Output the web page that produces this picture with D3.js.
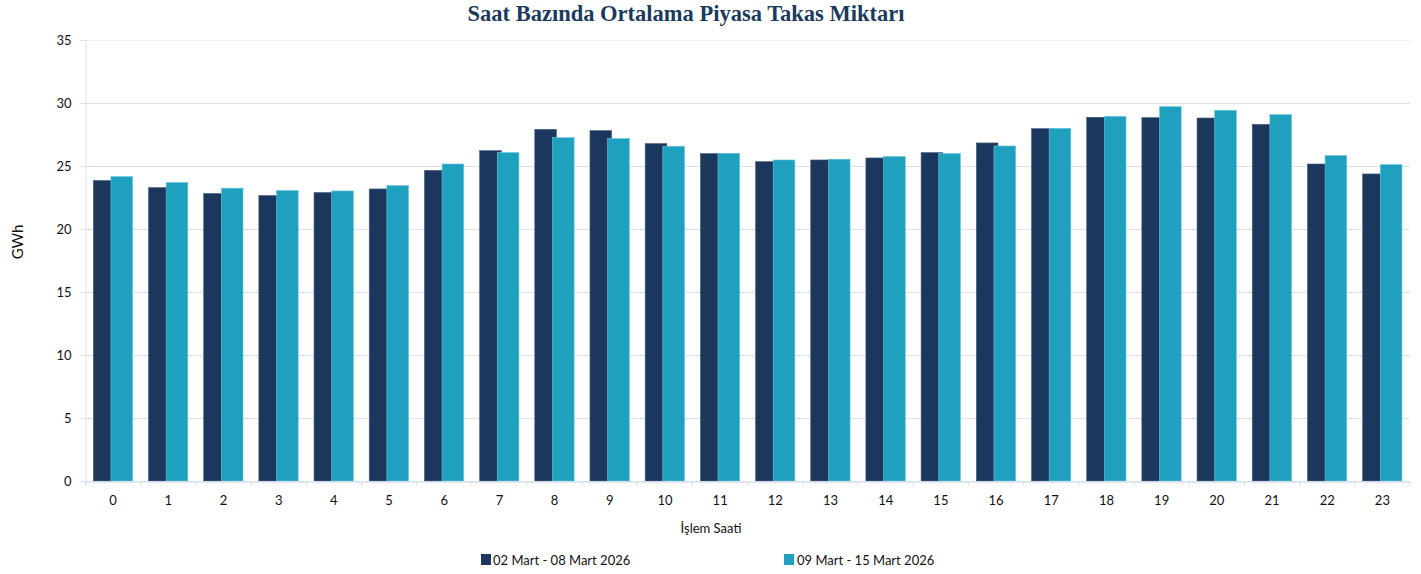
<!DOCTYPE html>
<html lang="tr">
<head>
<meta charset="UTF-8">
<title>Saat Bazında Ortalama Piyasa Takas Miktarı</title>
<style>
  body { margin: 0; background: #fff; }
  svg { display: block; font-family: Lato, "Noto Sans", sans-serif; }
</style>
</head>
<body>
<div id="chart"></div>
<script src="https://cdn.jsdelivr.net/npm/d3@7"></script>
<script>
var hours = ["0","1","2","3","4","5","6","7","8","9","10","11","12","13","14","15","16","17","18","19","20","21","22","23"];
var week1 = [23.85,23.29,22.82,22.66,22.90,23.18,24.66,26.22,27.91,27.81,26.78,25.99,25.35,25.48,25.64,26.07,26.83,27.97,28.87,28.84,28.81,28.31,25.16,24.37];
var week2 = [24.16,23.69,23.24,23.05,23.02,23.45,25.16,26.07,27.25,27.18,26.57,26.01,25.48,25.54,25.75,25.99,26.59,27.99,28.94,29.71,29.42,29.08,25.83,25.11];
var seriesNames = ["02 Mart - 08 Mart 2026", "09 Mart - 15 Mart 2026"];
var yTicks = [0, 5, 10, 15, 20, 25, 30, 35];

var width = 1421, height = 574;
var margin = {top: 40, right: 11, bottom: 93, left: 85.5};
var colors = ["#1b375e", "#1fa0bf"];

var svg = d3.select("#chart").append("svg")
  .attr("width", width)
  .attr("height", height);

var x = d3.scaleBand()
  .domain(hours)
  .range([margin.left, width - margin.right])
  .paddingInner(0)
  .paddingOuter(0);

var y = d3.scaleLinear()
  .domain([0, 35])
  .range([height - margin.bottom, margin.top]);

// grid
svg.append("g")
  .selectAll("line")
  .data(yTicks)
  .enter().append("line")
  .attr("x1", margin.left)
  .attr("x2", width - margin.right)
  .attr("y1", function(d) { return Math.round(y(d)) + 0.5; })
  .attr("y2", function(d) { return Math.round(y(d)) + 0.5; })
  .attr("stroke", function(d) { return d === 35 ? "#edf1f7" : "#d9e1ec"; })
  .attr("stroke-width", 1);

// y axis
var yAxis = svg.append("g")
  .attr("transform", "translate(" + margin.left + ",0)")
  .call(d3.axisLeft(y).tickValues(yTicks).tickSize(5).tickPadding(9));
yAxis.select(".domain").attr("stroke", "#d9e1ec");
yAxis.selectAll(".tick line").attr("stroke", "#d9e1ec");
yAxis.selectAll("text").attr("font-size", "13px").attr("fill", "#111")
  .attr("font-family", "Lato, 'Noto Sans', sans-serif");

// bars
var band = x.bandwidth();
var barW = band * 0.393;
var shift = band * 0.32;
var pad = band * 0.141;

var groups = svg.append("g").selectAll("g")
  .data(hours)
  .enter().append("g");

groups.append("rect")
  .attr("x", function(d) { return x(d) + pad; })
  .attr("y", function(d, i) { return y(week1[i]); })
  .attr("width", barW)
  .attr("height", function(d, i) { return y(0) - y(week1[i]); })
  .attr("fill", colors[0])
  .attr("stroke", "#4a6484")
  .attr("stroke-width", 0.6);

groups.append("rect")
  .attr("x", function(d) { return x(d) + pad + shift; })
  .attr("y", function(d, i) { return y(week2[i]); })
  .attr("width", barW)
  .attr("height", function(d, i) { return y(0) - y(week2[i]); })
  .attr("fill", colors[1])
  .attr("stroke", "#6cc6dd")
  .attr("stroke-width", 0.6);

// x axis
var xAxis = svg.append("g")
  .attr("transform", "translate(0," + (Math.round(y(0)) + 0.5) + ")")
  .call(d3.axisBottom(x).tickSize(0).tickPadding(14));
xAxis.select(".domain").attr("stroke", "#d9e1ec").attr("stroke-width", 1.5);
xAxis.selectAll("text").attr("font-size", "13px").attr("fill", "#111")
  .attr("font-family", "Lato, 'Noto Sans', sans-serif");

// category separators under the axis
svg.append("g").selectAll("line")
  .data(hours.concat(["end"]))
  .enter().append("line")
  .attr("x1", function(d, i) { return margin.left + i * band; })
  .attr("x2", function(d, i) { return margin.left + i * band; })
  .attr("y1", y(0))
  .attr("y2", y(0) + 5)
  .attr("stroke", "#d9e1ec");

// title
svg.append("text")
  .attr("x", 686)
  .attr("y", 21)
  .attr("text-anchor", "middle")
  .attr("font-family", "'Liberation Serif', 'DejaVu Serif', serif")
  .attr("font-weight", "bold")
  .attr("font-size", "22.5px")
  .attr("fill", "#1b3a5c")
  .text("Saat Bazında Ortalama Piyasa Takas Miktarı");

// axis titles
svg.append("text")
  .attr("transform", "translate(23," + 242 + ") rotate(-90)")
  .attr("text-anchor", "middle")
  .attr("font-size", "15px")
  .attr("fill", "#111")
  .text("GWh");

svg.append("text")
  .attr("x", 711)
  .attr("y", 533)
  .attr("text-anchor", "middle")
  .attr("font-size", "13px")
  .attr("fill", "#111")
  .text("İşlem Saati");

// legend
var legendX = [481, 784];
var legend = svg.append("g").selectAll("g")
  .data(seriesNames)
  .enter().append("g")
  .attr("transform", function(d, i) { return "translate(" + legendX[i] + ",554)"; });

legend.append("rect")
  .attr("width", 10)
  .attr("height", 11)
  .attr("fill", function(d, i) { return colors[i]; });

legend.append("text")
  .attr("x", function(d, i) { return i === 0 ? 12 : 13; })
  .attr("y", 10.5)
  .attr("font-size", "13px")
  .attr("fill", "#111")
  .text(function(d) { return d; });
</script>
</body>
</html>
